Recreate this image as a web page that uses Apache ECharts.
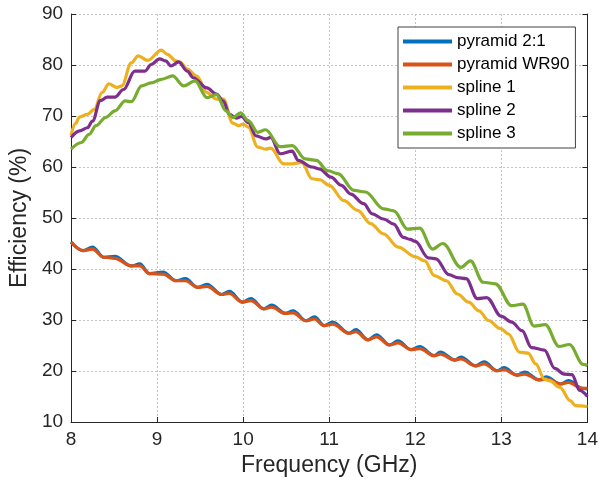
<!DOCTYPE html>
<html>
<head>
<meta charset="utf-8">
<script src="https://cdn.jsdelivr.net/npm/echarts@6/dist/echarts.min.js"></script>
<style>
html,body{margin:0;padding:0;background:#fff;}
#chart{width:601px;height:482px;}
</style>
</head>
<body>
<div id="chart"></div>
<script>
// ---- Data ----
const seriesNames = ['pyramid 2:1', 'pyramid WR90', 'spline 1', 'spline 2', 'spline 3'];
const xTicks = [8, 9, 10, 11, 12, 13, 14];
const yTicks = [10, 20, 30, 40, 50, 60, 70, 80, 90];

const pyramidFreq = [8.00, 8.14, 8.25, 8.38, 8.51, 8.70, 8.80, 8.91, 9.07, 9.22, 9.33, 9.47, 9.58, 9.75, 9.84, 9.99, 10.09, 10.24, 10.33, 10.49, 10.58, 10.73, 10.83, 10.94, 11.04, 11.23, 11.31, 11.45, 11.55, 11.70, 11.80, 11.95, 12.05, 12.22, 12.29, 12.46, 12.53, 12.70, 12.80, 12.95, 13.03, 13.18, 13.27, 13.44, 13.52, 13.69, 13.78, 13.94, 14.00];
const pyramid21Eff = [45.3, 43.6, 44.3, 42.3, 42.5, 40.6, 41.0, 39.1, 39.4, 37.7, 38.1, 36.4, 37.0, 35.0, 35.6, 33.5, 34.2, 32.2, 32.9, 31.3, 31.8, 29.85, 30.6, 28.9, 29.6, 27.4, 28.1, 26.1, 27.1, 25.1, 25.9, 24.2, 24.8, 23.0, 23.7, 22.15, 22.75, 21.0, 21.8, 20.05, 20.65, 19.2, 19.8, 18.25, 18.85, 17.45, 18.1, 16.6, 16.5];
const pyramidWR90Eff = [45.2, 43.6, 43.9, 42.3, 42.1, 40.6, 40.6, 39.1, 39.0, 37.7, 37.7, 36.4, 36.6, 35.0, 35.2, 33.5, 33.8, 32.2, 32.5, 31.3, 31.4, 29.85, 30.2, 28.9, 29.2, 27.4, 27.7, 26.1, 26.7, 25.1, 25.5, 24.2, 24.4, 23.0, 23.3, 22.15, 22.35, 21.0, 21.4, 20.05, 20.25, 19.2, 19.4, 18.25, 18.45, 17.45, 17.75, 16.6, 16.6];

const spline1Freq = [8.00, 8.05, 8.10, 8.19, 8.27, 8.36, 8.44, 8.53, 8.59, 8.70, 8.78, 8.89, 9.05, 9.12, 9.22, 9.27, 9.35, 9.46, 9.58, 9.69, 9.77, 9.88, 9.95, 10.00, 10.06, 10.17, 10.26, 10.32, 10.47, 10.57, 10.68, 10.80, 10.89, 11.00, 11.17, 11.33, 11.48, 11.63, 11.80, 12.00, 12.11, 12.22, 12.36, 12.49, 12.62, 12.74, 12.85, 12.99, 13.08, 13.21, 13.31, 13.40, 13.50, 13.56, 13.68, 13.80, 13.86, 14.00];
const spline1Eff = [66.2, 68.5, 69.8, 70.3, 71.3, 74.6, 76.3, 75.6, 75.9, 80.4, 81.8, 80.9, 82.9, 82.1, 80.8, 80.5, 79.2, 77.8, 74.6, 73.3, 73.3, 68.6, 68.1, 68.4, 67.8, 63.9, 63.5, 63.7, 60.6, 60.6, 60.9, 57.7, 57.5, 56.4, 53.4, 51.5, 48.9, 46.9, 44.3, 42.4, 41.6, 38.7, 37.7, 35.1, 33.5, 31.8, 29.9, 28.3, 27.3, 23.7, 23.5, 21.4, 18.4, 18.1, 16.8, 14.2, 13.2, 13.0];

const spline2Freq = [8.00, 8.10, 8.19, 8.25, 8.34, 8.42, 8.51, 8.61, 8.74, 8.86, 8.93, 9.03, 9.10, 9.16, 9.25, 9.35, 9.42, 9.58, 9.69, 9.77, 9.84, 9.92, 9.98, 10.06, 10.15, 10.26, 10.32, 10.43, 10.57, 10.64, 10.80, 10.89, 11.02, 11.14, 11.25, 11.40, 11.50, 11.63, 11.75, 11.86, 11.94, 12.00, 12.15, 12.24, 12.39, 12.49, 12.59, 12.72, 12.83, 13.00, 13.12, 13.24, 13.35, 13.50, 13.62, 13.73, 13.82, 13.91, 14.00];
const spline2Eff = [65.8, 67.1, 67.7, 69.0, 73.0, 73.7, 73.7, 75.2, 78.8, 78.8, 80.1, 81.2, 80.8, 79.8, 80.6, 78.8, 77.5, 75.5, 74.3, 72.9, 70.3, 69.6, 69.9, 68.7, 66.1, 65.5, 65.8, 62.6, 63.1, 61.3, 60.0, 59.6, 58.0, 56.4, 54.7, 52.8, 50.8, 49.8, 48.8, 46.2, 45.8, 45.4, 42.2, 42.0, 38.9, 38.3, 38.1, 34.2, 34.4, 30.7, 29.6, 27.9, 24.6, 24.1, 20.5, 19.4, 19.3, 16.2, 15.0];

const spline3Freq = [8.00, 8.12, 8.21, 8.29, 8.40, 8.51, 8.63, 8.70, 8.82, 8.93, 9.05, 9.18, 9.31, 9.44, 9.58, 9.69, 9.80, 9.88, 9.97, 10.06, 10.17, 10.26, 10.43, 10.57, 10.72, 10.85, 10.98, 11.10, 11.29, 11.42, 11.63, 11.75, 11.91, 12.05, 12.20, 12.32, 12.53, 12.64, 12.79, 12.93, 13.12, 13.25, 13.38, 13.51, 13.67, 13.79, 13.95, 14.00];
const spline3Eff = [63.5, 64.8, 66.4, 68.1, 69.7, 71.0, 72.95, 72.8, 75.9, 76.5, 77.2, 77.85, 75.9, 76.9, 73.6, 74.2, 71.0, 69.7, 70.6, 69.1, 66.8, 67.3, 64.0, 64.2, 61.6, 61.3, 59.3, 58.7, 55.4, 55.1, 51.8, 51.4, 47.8, 48.0, 43.9, 45.0, 40.3, 41.6, 37.4, 37.1, 32.8, 33.1, 28.8, 29.1, 24.8, 25.2, 21.3, 21.1];

const seriesColors = ['#0072BD', '#D95319', '#EDB120', '#7E2F8E', '#77AC30'];

// ---- Build chart ----
const pairs = (xs, ys) => xs.map((x, i) => [x, ys[i]]);
const seriesData = [
  pairs(pyramidFreq, pyramid21Eff),
  pairs(pyramidFreq, pyramidWR90Eff),
  pairs(spline1Freq, spline1Eff),
  pairs(spline2Freq, spline2Eff),
  pairs(spline3Freq, spline3Eff)
];

const FONT = "'Liberation Sans', Arial, Helvetica, sans-serif";
const chart = echarts.init(document.getElementById('chart'), null, {renderer: 'canvas'});

const axisColor = '#262626';
const gridLine = {show: true, lineStyle: {color: '#c4c4c4', type: [2, 2], width: 1}};

chart.setOption({
  animation: false,
  backgroundColor: '#ffffff',
  grid: {left: 64, right: 9, top: 14, bottom: 60, containLabel: false},
  xAxis: {
    type: 'value',
    min: xTicks[0], max: xTicks[xTicks.length - 1], interval: 1,
    name: 'Frequency (GHz)', nameLocation: 'middle', nameGap: 31,
    nameTextStyle: {fontFamily: FONT, fontSize: 23, color: axisColor},
    axisLine: {show: true, onZero: false, lineStyle: {color: axisColor, width: 1}},
    axisTick: {show: true, inside: true, length: 5, lineStyle: {color: axisColor}},
    axisLabel: {fontFamily: FONT, fontSize: 19, color: axisColor, margin: 8},
    splitLine: gridLine
  },
  yAxis: [{
    type: 'value',
    min: yTicks[0], max: yTicks[yTicks.length - 1], interval: 10,
    name: 'Efficiency (%)', nameLocation: 'middle', nameGap: 32,
    nameTextStyle: {fontFamily: FONT, fontSize: 23, color: axisColor},
    axisLine: {show: true, onZero: false, lineStyle: {color: axisColor, width: 1}},
    axisTick: {show: true, inside: true, length: 5, lineStyle: {color: axisColor}},
    axisLabel: {fontFamily: FONT, fontSize: 19, color: axisColor, margin: 8},
    splitLine: gridLine
  }, {
    type: 'value', position: 'right',
    min: yTicks[0], max: yTicks[yTicks.length - 1], interval: 10,
    axisLine: {show: true, onZero: false, lineStyle: {color: axisColor, width: 1}},
    axisTick: {show: true, inside: true, length: 5, lineStyle: {color: axisColor}},
    axisLabel: {show: false},
    splitLine: {show: false}
  }],
  legend: {
    orient: 'vertical',
    left: 398, top: 27,
    padding: [6, 6, 6, 5],
    itemGap: 6,
    itemWidth: 49, itemHeight: 4,
    icon: 'rect',
    backgroundColor: '#ffffff',
    borderColor: '#404040', borderWidth: 1,
    textStyle: {fontFamily: FONT, fontSize: 17, color: '#000000', padding: [0, 0, 0, 0]},
    data: seriesNames
  },
  series: seriesNames.map((name, i) => ({
    name: name,
    type: 'line',
    data: seriesData[i],
    showSymbol: false,
    smooth: 0.35,
    smoothMonotone: 'x',
    color: seriesColors[i],
    lineStyle: {width: 3.2, color: seriesColors[i]},
    emphasis: {disabled: true}
  }))
});
</script>
</body>
</html>
